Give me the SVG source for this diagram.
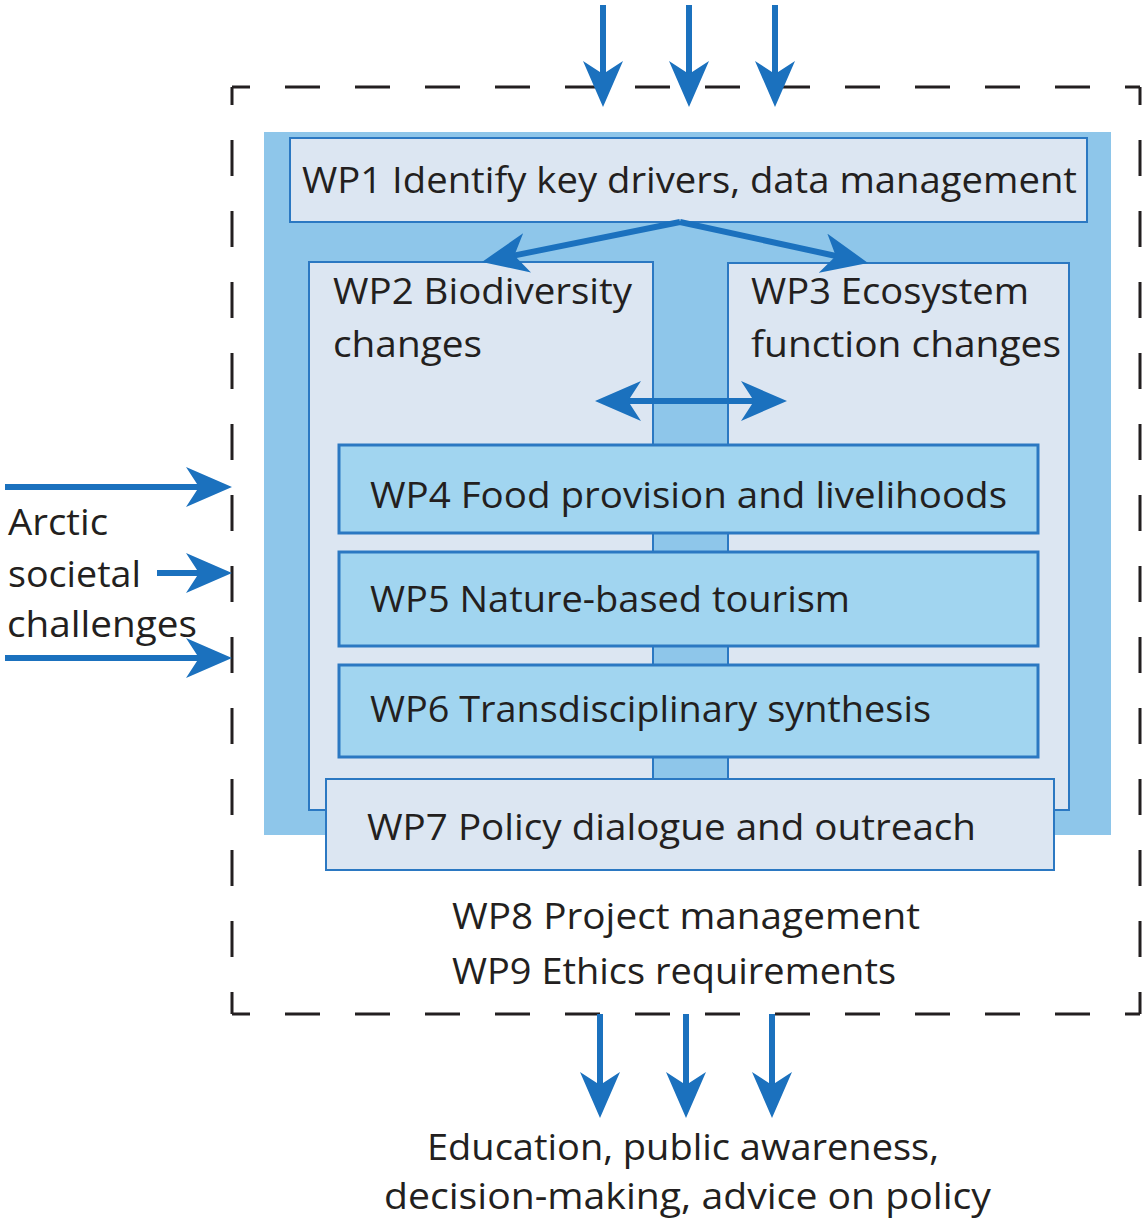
<svg xmlns="http://www.w3.org/2000/svg" width="1143" height="1221" viewBox="0 0 1143 1221">
  <style>
    .txt { font-family: "Open Sans", "Noto Sans", "DejaVu Sans", sans-serif; font-size: 37px; fill: #231f20; }
    .pale { fill: #dce6f2; stroke: #2b78c2; stroke-width: 2; }
    .wp { fill: #a1d5f0; stroke: #2b78c2; stroke-width: 3; }
    .dashh { stroke: #231f20; stroke-width: 3; fill: none; stroke-dasharray: 35 35; stroke-dashoffset: 17; }
    .dashv { stroke: #231f20; stroke-width: 3; fill: none; stroke-dasharray: 36 35; stroke-dashoffset: 18; }
    .flow { stroke: #1b71be; stroke-width: 6; fill: none; }
  </style>
  <defs>
    <marker id="head" viewBox="0 0 46 40" markerWidth="46" markerHeight="40" refX="26" refY="20" orient="auto-start-reverse" markerUnits="userSpaceOnUse">
      <path d="M0,0 L46,20 L0,40 L13,20 Z" fill="#1b71be"/>
    </marker>
  </defs>

  <rect width="1143" height="1221" fill="#ffffff"/>

  <!-- project boundary -->
  <g id="boundary">
    <path class="dashh" d="M232,87 H1140"/>
    <path class="dashh" d="M232,1014 H1140"/>
    <path class="dashv" d="M232,87 V1014"/>
    <path class="dashv" d="M1140,87 V1014"/>
  </g>

  <!-- core work packages panel -->
  <rect id="core-panel" x="264" y="132" width="847" height="703" fill="#8ec6ea"/>

  <g id="wp1">
    <rect class="pale" x="290" y="138" width="797" height="84"/>
    <text class="txt" x="302" y="193" textLength="775" lengthAdjust="spacingAndGlyphs">WP1 Identify key drivers, data management</text>
  </g>

  <g id="wp2">
    <rect class="pale" x="309" y="262" width="344" height="548"/>
    <text class="txt" x="333" y="304" textLength="299" lengthAdjust="spacingAndGlyphs">WP2 Biodiversity</text>
    <text class="txt" x="333" y="357" textLength="149" lengthAdjust="spacingAndGlyphs">changes</text>
  </g>

  <g id="wp3">
    <rect class="pale" x="728" y="263" width="341" height="547"/>
    <text class="txt" x="751" y="304" textLength="278" lengthAdjust="spacingAndGlyphs">WP3 Ecosystem</text>
    <text class="txt" x="751" y="357" textLength="310" lengthAdjust="spacingAndGlyphs">function changes</text>
  </g>

  <g id="wp4">
    <rect class="wp" x="339" y="445" width="699" height="88"/>
    <text class="txt" x="370" y="508" textLength="637" lengthAdjust="spacingAndGlyphs">WP4 Food provision and livelihoods</text>
  </g>

  <g id="wp5">
    <rect class="wp" x="339" y="552" width="699" height="94"/>
    <text class="txt" x="370" y="612" textLength="480" lengthAdjust="spacingAndGlyphs">WP5 Nature-based tourism</text>
  </g>

  <g id="wp6">
    <rect class="wp" x="339" y="665" width="699" height="92"/>
    <text class="txt" x="370" y="722" textLength="561" lengthAdjust="spacingAndGlyphs">WP6 Transdisciplinary synthesis</text>
  </g>

  <g id="wp7">
    <rect class="pale" x="326" y="779" width="728" height="91"/>
    <text class="txt" x="367" y="840" textLength="609" lengthAdjust="spacingAndGlyphs">WP7 Policy dialogue and outreach</text>
  </g>

  <g id="wp8-wp9">
    <text class="txt" x="452" y="929" textLength="468" lengthAdjust="spacingAndGlyphs">WP8 Project management</text>
    <text class="txt" x="452" y="984" textLength="444" lengthAdjust="spacingAndGlyphs">WP9 Ethics requirements</text>
  </g>

  <g id="inputs-label">
    <text class="txt" x="8" y="535" textLength="100" lengthAdjust="spacingAndGlyphs">Arctic</text>
    <text class="txt" x="8" y="587" textLength="133" lengthAdjust="spacingAndGlyphs">societal</text>
    <text class="txt" x="7" y="637" textLength="190" lengthAdjust="spacingAndGlyphs">challenges</text>
  </g>

  <g id="outputs-label">
    <text class="txt" x="427" y="1160" textLength="512" lengthAdjust="spacingAndGlyphs">Education, public awareness,</text>
    <text class="txt" x="384" y="1209" textLength="607" lengthAdjust="spacingAndGlyphs">decision-making, advice on policy</text>
  </g>

  <!-- connectors -->
  <g id="connectors">
    <line class="flow" x1="603" y1="5" x2="603" y2="87" marker-end="url(#head)"/>
    <line class="flow" x1="689" y1="5" x2="689" y2="87" marker-end="url(#head)"/>
    <line class="flow" x1="775" y1="5" x2="775" y2="87" marker-end="url(#head)"/>

    <line class="flow" x1="680" y1="222" x2="501.6" y2="258" marker-end="url(#head)"/>
    <line class="flow" x1="680" y1="222" x2="848.5" y2="258.7" marker-end="url(#head)"/>

    <line class="flow" x1="615" y1="401" x2="767" y2="401" marker-start="url(#head)" marker-end="url(#head)"/>

    <line class="flow" x1="5" y1="487" x2="212" y2="487" marker-end="url(#head)"/>
    <line class="flow" x1="157" y1="573" x2="212" y2="573" marker-end="url(#head)"/>
    <line class="flow" x1="5" y1="658" x2="212" y2="658" marker-end="url(#head)"/>

    <line class="flow" x1="600" y1="1014" x2="600" y2="1098" marker-end="url(#head)"/>
    <line class="flow" x1="686" y1="1014" x2="686" y2="1098" marker-end="url(#head)"/>
    <line class="flow" x1="772" y1="1014" x2="772" y2="1098" marker-end="url(#head)"/>
  </g>
</svg>
